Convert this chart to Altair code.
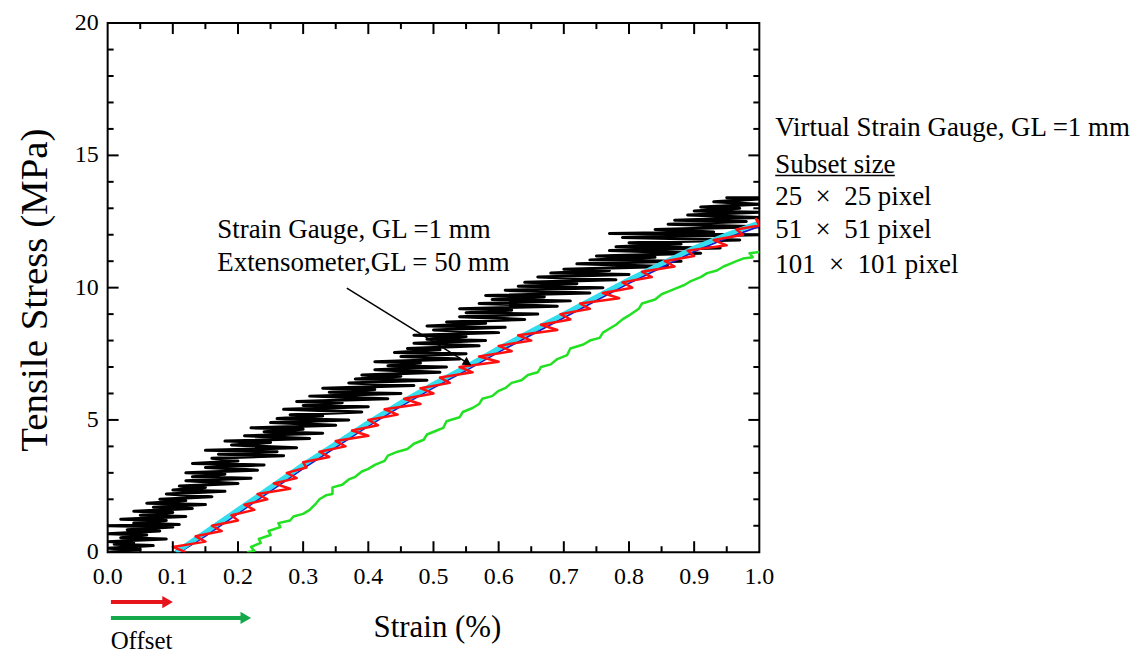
import altair as alt
import pandas as pd

# ---------------- data ----------------
# Strain gauge (GL = 1 mm) - cyan
cyan_strain = [0.105, 0.15, 0.2, 0.25, 0.3, 0.35, 0.4, 0.45, 0.5, 0.55, 0.6, 0.65, 0.7, 0.75, 0.8, 0.85, 0.9, 0.95, 1.0]
cyan_stress = [0.0, 0.75, 1.6, 2.45, 3.3, 4.1, 4.9, 5.65, 6.35, 7.0, 7.7, 8.35, 9.0, 9.65, 10.3, 10.9, 11.5, 12.0, 12.45]

# Extensometer (GL = 50 mm) - blue
blue_strain = [0.11, 0.15, 0.2, 0.25, 0.3, 0.35, 0.4, 0.45, 0.5, 0.55, 0.6, 0.65, 0.7, 0.75, 0.8, 0.85, 0.9, 0.95, 1.0]
blue_stress = [0.0, 0.62, 1.47, 2.32, 3.17, 3.97, 4.77, 5.52, 6.22, 6.87, 7.57, 8.22, 8.87, 9.52, 10.17, 10.77, 11.37, 11.87, 12.32]

# Virtual strain gauge, subset 25 x 25 - black
black_stress = [0.0, 0.1, 0.15, 0.25, 0.3, 0.35, 0.4, 0.5, 0.55, 0.65,
                0.7, 0.8, 0.85, 0.95, 1.0, 1.05, 1.1, 1.2, 1.25, 1.35,
                1.4, 1.5, 1.55, 1.65, 1.7, 1.8, 1.85, 1.95, 2.0, 2.1,
                2.2, 2.3, 2.35, 2.45, 2.5, 2.6, 2.7, 2.8, 2.85, 2.95,
                3.0, 3.1, 3.2, 3.3, 3.35, 3.45, 3.55, 3.65, 3.7, 3.8,
                3.85, 3.95, 4.05, 4.15, 4.2, 4.3, 4.4, 4.5, 4.55, 4.65,
                4.7, 4.8, 4.9, 5.0, 5.05, 5.15, 5.2, 5.3, 5.4, 5.5,
                5.55, 5.65, 5.7, 5.8, 5.9, 6.0, 6.05, 6.15, 6.2, 6.3,
                6.4, 6.5, 6.55, 6.65, 6.7, 6.8, 6.9, 7.0, 7.05, 7.15,
                7.2, 7.3, 7.4, 7.5, 7.55, 7.65, 7.7, 7.8, 7.9, 8.0,
                8.05, 8.15, 8.2, 8.3, 8.4, 8.5, 8.55, 8.65, 8.7, 8.8,
                8.9, 9.0, 9.05, 9.15, 9.2, 9.3, 9.4, 9.5, 9.55, 9.65,
                9.7, 9.8, 9.9, 10.0, 10.05, 10.15, 10.2, 10.3, 10.4, 10.5,
                10.55, 10.65, 10.7, 10.8, 10.9, 11.0, 11.05, 11.15, 11.2, 11.3,
                11.4, 11.5, 11.55, 11.65, 11.7, 11.8, 11.9, 12.0, 12.05, 12.1,
                12.2, 12.3, 12.4, 12.5, 12.55, 12.65, 12.75, 12.85, 12.9, 13.0,
                13.05, 13.15, 13.25, 13.35, 13.4, 13.4]
black_strain = [0.0, 0.05, 0.0, 0.07, 0.01, 0.04, 0.0, 0.09, 0.02, 0.06,
                0.0, 0.08, 0.03, 0.1, 0.0, 0.11, 0.04, 0.09, 0.02, 0.12,
                0.05, 0.1, 0.04, 0.13, 0.07, 0.15, 0.06, 0.12, 0.08, 0.16,
                0.09, 0.18, 0.1, 0.15, 0.11, 0.2, 0.12, 0.22, 0.13, 0.18,
                0.12, 0.23, 0.15, 0.24, 0.13, 0.2, 0.16, 0.27, 0.17, 0.26,
                0.15, 0.29, 0.19, 0.25, 0.18, 0.31, 0.21, 0.33, 0.24, 0.3,
                0.22, 0.35, 0.25, 0.37, 0.26, 0.33, 0.28, 0.39, 0.27, 0.4,
                0.3, 0.36, 0.29, 0.43, 0.31, 0.45, 0.34, 0.41, 0.33, 0.47,
                0.37, 0.49, 0.38, 0.45, 0.39, 0.51, 0.41, 0.52, 0.43, 0.48,
                0.41, 0.54, 0.45, 0.55, 0.44, 0.51, 0.46, 0.57, 0.47, 0.58,
                0.49, 0.55, 0.47, 0.6, 0.5, 0.61, 0.49, 0.58, 0.52, 0.64,
                0.54, 0.66, 0.55, 0.62, 0.54, 0.69, 0.57, 0.71, 0.59, 0.67,
                0.58, 0.74, 0.61, 0.76, 0.63, 0.72, 0.64, 0.78, 0.66, 0.8,
                0.68, 0.77, 0.7, 0.86, 0.72, 0.88, 0.74, 0.84, 0.75, 0.91,
                0.77, 0.94, 0.78, 0.88, 0.8, 0.97, 0.79, 1.0, 0.77, 0.93,
                0.84, 1.0, 0.86, 0.98, 0.87, 1.0, 0.89, 1.0, 0.9, 0.97,
                0.91, 1.0, 0.93, 1.0, 0.95, 1.0]

# Virtual strain gauge, subset 51 x 51 (offset 0.1 %) - red
red_strain = [0.12, 0.10, 0.15, 0.135, 0.175, 0.16, 0.2, 0.19, 0.225, 0.21,
              0.245, 0.23, 0.28, 0.255, 0.29, 0.275, 0.305, 0.3, 0.34, 0.325,
              0.365, 0.35, 0.4, 0.375, 0.415, 0.4, 0.445, 0.425, 0.48, 0.455,
              0.5, 0.48, 0.525, 0.51, 0.56, 0.54, 0.6, 0.57, 0.62, 0.6,
              0.65, 0.63, 0.69, 0.665, 0.71, 0.695, 0.74, 0.725, 0.785, 0.76,
              0.805, 0.79, 0.835, 0.82, 0.87, 0.855, 0.9, 0.89, 0.95, 0.93,
              0.975, 0.965, 1.0, 0.995, 1.0]
red_stress = [0.0, 0.2, 0.4, 0.6, 0.8, 1.0, 1.2, 1.4, 1.6, 1.8,
              2.0, 2.2, 2.4, 2.6, 2.8, 3.0, 3.2, 3.4, 3.6, 3.8,
              4.0, 4.2, 4.4, 4.6, 4.8, 5.0, 5.2, 5.4, 5.6, 5.8,
              6.0, 6.2, 6.4, 6.6, 6.8, 7.0, 7.2, 7.4, 7.6, 7.8,
              8.0, 8.2, 8.4, 8.6, 8.8, 9.0, 9.2, 9.4, 9.6, 9.8,
              10.0, 10.2, 10.4, 10.6, 10.8, 11.0, 11.2, 11.4, 11.6, 11.8,
              12.0, 12.2, 12.35, 12.6, 12.45]

# Virtual strain gauge, subset 101 x 101 (offset 0.2 %) - green
green_strain = [0.214, 0.225, 0.22, 0.235, 0.232, 0.25, 0.247, 0.265, 0.262, 0.28,
                0.285, 0.3, 0.31, 0.32, 0.325, 0.335, 0.345, 0.345, 0.36, 0.37,
                0.38, 0.39, 0.4, 0.41, 0.425, 0.43, 0.445, 0.46, 0.47, 0.485,
                0.49, 0.505, 0.515, 0.52, 0.54, 0.545, 0.56, 0.57, 0.575, 0.59,
                0.6, 0.61, 0.62, 0.635, 0.645, 0.66, 0.665, 0.68, 0.69, 0.705,
                0.71, 0.73, 0.74, 0.755, 0.76, 0.78, 0.79, 0.8, 0.815, 0.82,
                0.84, 0.85, 0.86, 0.875, 0.885, 0.895, 0.91, 0.92, 0.935, 0.945,
                0.955, 0.965, 0.975, 0.99, 0.985, 1.0]
green_stress = [0.0, 0.05, 0.2, 0.35, 0.5, 0.65, 0.8, 0.95, 1.1, 1.2,
                1.35, 1.45, 1.6, 1.85, 2.0, 2.15, 2.2, 2.45, 2.55, 2.75,
                2.85, 3.05, 3.15, 3.3, 3.45, 3.65, 3.8, 3.9, 4.1, 4.25,
                4.45, 4.6, 4.7, 4.95, 5.1, 5.3, 5.45, 5.6, 5.8, 5.9,
                6.1, 6.2, 6.4, 6.5, 6.7, 6.8, 7.0, 7.1, 7.3, 7.45,
                7.7, 7.85, 8.0, 8.1, 8.3, 8.6, 8.8, 8.95, 9.2, 9.4,
                9.55, 9.75, 9.85, 10.0, 10.1, 10.25, 10.4, 10.55, 10.65, 10.8,
                10.9, 11.0, 11.1, 11.15, 11.3, 11.35]

# tick values
x_labels = [0.0, 0.1, 0.2, 0.3, 0.4, 0.5, 0.6, 0.7, 0.8, 0.9, 1.0]
x_major = [0.1, 0.2, 0.3, 0.4, 0.5, 0.6, 0.7, 0.8, 0.9]
x_minor = [0.05, 0.15, 0.25, 0.35, 0.45, 0.55, 0.65, 0.75, 0.85, 0.95]
y_labels = [0, 5, 10, 15, 20]
y_major = [5, 10, 15]
y_minor = [1, 2, 3, 4, 6, 7, 8, 9, 11, 12, 13, 14, 16, 17, 18, 19]

# annotation arrow (strain, stress)
arrow_from = [0.367, 9.98]
arrow_to = [0.557, 7.08]
arrow_head = [0.5505, 7.18]

# offsets (strain)
red_offset = 0.1
green_offset = 0.22

x_title = "Strain (%)"
y_title = "Tensile Stress (MPa)"
right_lines = ["Virtual Strain Gauge, GL =1 mm", "Subset size",
               "25\u2002\u00d7\u200225 pixel", "51\u2002\u00d7\u200251 pixel",
               "101\u2002\u00d7\u2002101 pixel"]
note_lines = ["Strain Gauge, GL =1 mm", "Extensometer,GL = 50 mm"]

# ---------------- chart ----------------
FONT = "Liberation Serif"
W, H = 654, 531
xs = alt.Scale(domain=[0, 1], nice=False, zero=False)
ys = alt.Scale(domain=[0, 20], nice=False, zero=False)


def series(xv, yv, color, width):
    df = pd.DataFrame({"strain": xv, "stress": yv, "i": list(range(len(xv)))})
    return alt.Chart(df).mark_line(color=color, strokeWidth=width, strokeJoin="round",
                                   clip=True).encode(
        x=alt.X("strain:Q", scale=xs, axis=None),
        y=alt.Y("stress:Q", scale=ys, axis=None),
        order="i:Q",
    )


layers = [
    series(black_strain, black_stress, "#000000", 3),
    series(green_strain, green_stress, "#22e022", 2.5),
    series(blue_strain, blue_stress, "#1a1acc", 2),
    series(cyan_strain, cyan_stress, "#33dded", 5),
    series(red_strain, red_stress, "#ff1010", 2.5),
]


# inward ticks on all four sides
def xticks(vals, length):
    df = pd.DataFrame({"v": vals})
    base = alt.Chart(df).mark_rule(color="black", strokeWidth=2)
    bottom = base.encode(x=alt.X("v:Q", scale=xs, axis=None), y=alt.value(H), y2=alt.value(H - length))
    top = base.encode(x=alt.X("v:Q", scale=xs, axis=None), y=alt.value(0), y2=alt.value(length))
    return [bottom, top]


def yticks(vals, length):
    df = pd.DataFrame({"v": vals})
    base = alt.Chart(df).mark_rule(color="black", strokeWidth=2)
    left = base.encode(y=alt.Y("v:Q", scale=ys, axis=None), x=alt.value(0), x2=alt.value(length))
    right = base.encode(y=alt.Y("v:Q", scale=ys, axis=None), x=alt.value(W), x2=alt.value(W - length))
    return [left, right]


layers += xticks(x_major, 11) + xticks(x_minor, 6) + yticks(y_major, 11) + yticks(y_minor, 6)

# tick labels
layers.append(alt.Chart(pd.DataFrame({"v": x_labels})).mark_text(
    font=FONT, fontSize=24, align="center", baseline="alphabetic", color="black").encode(
    x=alt.X("v:Q", scale=xs, axis=None), y=alt.value(H + 32),
    text=alt.Text("v:Q", format=".1f")))
layers.append(alt.Chart(pd.DataFrame({"v": y_labels})).mark_text(
    font=FONT, fontSize=24, align="right", baseline="middle", color="black").encode(
    y=alt.Y("v:Q", scale=ys, axis=None), x=alt.value(-9),
    text=alt.Text("v:Q", format="d")))

# axis titles
layers.append(alt.Chart(pd.DataFrame({"t": [x_title]})).mark_text(
    font=FONT, fontSize=31, align="center", baseline="alphabetic", color="black").encode(
    text="t:N", x=alt.value(331), y=alt.value(H + 85)))
layers.append(alt.Chart(pd.DataFrame({"t": [y_title]})).mark_text(
    font=FONT, fontSize=39, align="center", baseline="alphabetic", angle=270,
    color="black").encode(text="t:N", x=alt.value(-61), y=alt.value(268)))

# annotation arrow
arr_df = pd.DataFrame({"x": [arrow_from[0]], "y": [arrow_from[1]],
                       "x2": [arrow_to[0]], "y2": [arrow_to[1]]})
layers.append(alt.Chart(arr_df).mark_rule(color="black", strokeWidth=1.5).encode(
    x=alt.X("x:Q", scale=xs, axis=None), y=alt.Y("y:Q", scale=ys, axis=None), x2="x2:Q", y2="y2:Q"))
head_df = pd.DataFrame({"x": [arrow_head[0]], "y": [arrow_head[1]]})
layers.append(alt.Chart(head_df).mark_point(shape="triangle", filled=True, size=90,
                                            angle=122, color="black", opacity=1).encode(
    x=alt.X("x:Q", scale=xs, axis=None), y=alt.Y("y:Q", scale=ys, axis=None)))

# annotation text
for txt, yy in zip(note_lines, [216, 249]):
    layers.append(alt.Chart(pd.DataFrame({"t": [txt]})).mark_text(
        font=FONT, fontSize=27, align="left", baseline="alphabetic", color="black").encode(
        text="t:N", x=alt.value(110), y=alt.value(yy)))

# right-side legend text
for txt, yy in zip(right_lines, [113, 150, 183, 216, 251]):
    layers.append(alt.Chart(pd.DataFrame({"t": [txt]})).mark_text(
        font=FONT, fontSize=27, align="left", baseline="alphabetic", color="black").encode(
        text="t:N", x=alt.value(670), y=alt.value(yy)))
layers.append(alt.Chart(pd.DataFrame({"a": [0]})).mark_rule(color="black", strokeWidth=1.5).encode(
    x=alt.value(670), x2=alt.value(790), y=alt.value(153)))

# offset arrows below the x axis
layers.append(alt.Chart(pd.DataFrame({"x": [0.005], "x2": [red_offset - 0.012]})).mark_rule(
    color="#e8141c", strokeWidth=4).encode(
    x=alt.X("x:Q", scale=xs, axis=None), x2="x2:Q", y=alt.value(H + 50)))
layers.append(alt.Chart(pd.DataFrame({"x": [0.005], "x2": [green_offset - 0.012]})).mark_rule(
    color="#14a84a", strokeWidth=4).encode(
    x=alt.X("x:Q", scale=xs, axis=None), x2="x2:Q", y=alt.value(H + 66)))
layers.append(alt.Chart(pd.DataFrame({"x": [red_offset - 0.008]})).mark_point(
    shape="triangle-right", filled=True, size=150, color="#e8141c", opacity=1).encode(
    x=alt.X("x:Q", scale=xs, axis=None), y=alt.value(H + 50)))
layers.append(alt.Chart(pd.DataFrame({"x": [green_offset - 0.008]})).mark_point(
    shape="triangle-right", filled=True, size=150, color="#14a84a", opacity=1).encode(
    x=alt.X("x:Q", scale=xs, axis=None), y=alt.value(H + 66)))
layers.append(alt.Chart(pd.DataFrame({"t": ["Offset"]})).mark_text(
    font=FONT, fontSize=25, align="left", baseline="alphabetic", color="black").encode(
    text="t:N", x=alt.value(3), y=alt.value(H + 97)))

chart = alt.layer(*layers).properties(
    width=W, height=H,
    autosize=alt.AutoSizeParams(type="none"),
    padding={"left": 100, "top": 14, "right": 372, "bottom": 100},
    background="white",
).configure_view(stroke="black", strokeWidth=2)

chart.save("out.html", embed_options={"renderer": "svg", "actions": False})
